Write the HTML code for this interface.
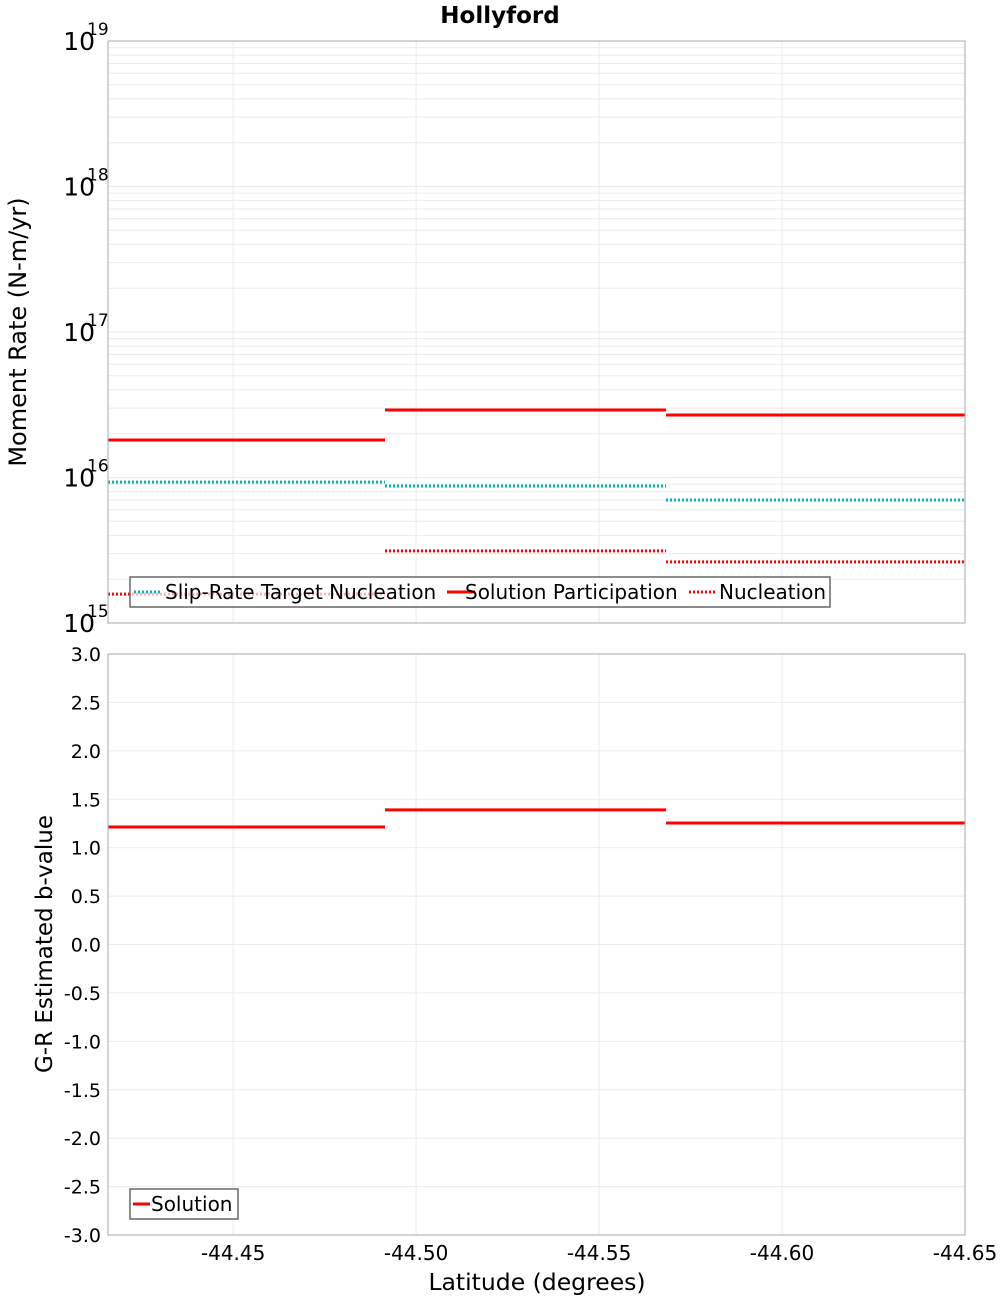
<!DOCTYPE html>
<html><head><meta charset="utf-8"><style>
body{margin:0;background:#fff;}
svg{display:block;font-family:"DejaVu Sans","Liberation Sans",sans-serif;}
</style></head><body>
<svg id="c" width="1000" height="1300" viewBox="0 0 1000 1300"></svg>
<script>
const boundaries = [-44.4158, -44.4915, -44.5683, -44.65];
const participation = [1.81e16, 2.91e16, 2.69e16];
const targetNucleation = [9.3e15, 8.75e15, 7.0e15];
const nucleation = [1.58e15, 3.13e15, 2.63e15];
const bValues = [1.213, 1.39, 1.255];
const xTicks = [-44.45, -44.50, -44.55, -44.60, -44.65];
const bTicks = [3.0,2.5,2.0,1.5,1.0,0.5,0.0,-0.5,-1.0,-1.5,-2.0,-2.5,-3.0];
const logTicks = [19,18,17,16,15];

const NS='http://www.w3.org/2000/svg';
const svg=document.getElementById('c');
function mk(t,a,p){const e=document.createElementNS(NS,t);for(const k in a)e.setAttribute(k,a[k]);(p||svg).appendChild(e);return e;}
const L=108,R=965,T1=41,B1=623,T2=654,B2=1235;
const xS=v=>L+(v-boundaries[0])/(boundaries[3]-boundaries[0])*(R-L);
const yLog=v=>T1+(19-Math.log10(v))/4*(B1-T1);
const yB=v=>T2+(3-v)/6*(B2-T2);

let t=mk('text',{x:500,y:23,'text-anchor':'middle','font-size':23,'font-weight':'bold'});
t.textContent='Hollyford';

const g1=mk('g',{});
for(let d=15;d<19;d++)for(let m=1;m<10;m++){const y=yLog(m*Math.pow(10,d));mk('line',{x1:L,x2:R,y1:y,y2:y,stroke:'#ebebeb','stroke-width':1},g1);}
const g2=mk('g',{});
bTicks.forEach(v=>{const y=yB(v);mk('line',{x1:L,x2:R,y1:y,y2:y,stroke:'#ebebeb'},g2);});
xTicks.forEach(v=>{const x=xS(v);mk('line',{x1:x,x2:x,y1:T1,y2:B1,stroke:'#ebebeb'},g1);mk('line',{x1:x,x2:x,y1:T2,y2:B2,stroke:'#ebebeb'},g2);});

function seg(arr,yf,color,dash,name){
  for(let i=0;i<arr.length;i++){
    const l=mk('line',{x1:xS(boundaries[i]),x2:xS(boundaries[i+1]),y1:yf(arr[i]),y2:yf(arr[i]),stroke:color,'stroke-width':3});
    if(dash)l.setAttribute('stroke-dasharray','2,2');
    
    
  }
}
seg(nucleation,yLog,'#ff0000',true,'nucleation-segment');
seg(targetNucleation,yLog,'#00b4b4',true,'target-nucleation-segment');
seg(participation,yLog,'#ff0000',false,'participation-segment');
seg(bValues,yB,'#ff0000',false,'b-value-segment');

let f=mk('rect',{x:L,y:T1,width:R-L,height:B1-T1,fill:'none',stroke:'#aaa'});
f=mk('rect',{x:L,y:T2,width:R-L,height:B2-T2,fill:'none',stroke:'#aaa'});

logTicks.forEach(d=>{const y=yLog(Math.pow(10,d));
  const e=mk('text',{x:95,y:y+9,'text-anchor':'end','font-size':25});e.textContent='10';
  
  const s=mk('text',{x:87,y:y-6,'font-size':17});s.textContent=String(d);
  });
bTicks.forEach(v=>{const e=mk('text',{x:101,y:yB(v)+7,'text-anchor':'end','font-size':19});e.textContent=v.toFixed(1);
  });
xTicks.forEach(v=>{const e=mk('text',{x:xS(v),y:1260,'text-anchor':'middle','font-size':20});e.textContent=v.toFixed(2);
  });

t=mk('text',{x:537,y:1290,'text-anchor':'middle','font-size':23.5});t.textContent='Latitude (degrees)';

t=mk('text',{x:0,y:0,'text-anchor':'middle','font-size':24,transform:'translate(26,332) rotate(-90)'});t.textContent='Moment Rate (N-m/yr)';

t=mk('text',{x:0,y:0,'text-anchor':'middle','font-size':23,transform:'translate(52,944) rotate(-90)'});t.textContent='G-R Estimated b-value';


const lg=mk('g',{});
mk('rect',{x:130,y:577,width:700,height:30,fill:'rgba(255,255,255,0.7)',stroke:'#666','stroke-width':1.5},lg);
[[134,'#00b4b4',true,165,'Slip-Rate Target Nucleation'],[447,'#ff0000',false,465,'Solution Participation'],[689,'#ff0000',true,719,'Nucleation']].forEach(([x,c,d,tx,lab])=>{
  const l=mk('line',{x1:x,x2:x+28,y1:592,y2:592,stroke:c,'stroke-width':3},lg);if(d)l.setAttribute('stroke-dasharray','2,2');
  const e=mk('text',{x:tx,y:599,'font-size':20},lg);e.textContent=lab;
  });
const lg2=mk('g',{});
mk('rect',{x:130,y:1189,width:108,height:30,fill:'#fff',stroke:'#666','stroke-width':1.5},lg2);
mk('line',{x1:133,x2:150,y1:1204,y2:1204,stroke:'#ff0000','stroke-width':3},lg2);
t=mk('text',{x:151,y:1211,'font-size':20},lg2);t.textContent='Solution';

</script>
</body></html>
